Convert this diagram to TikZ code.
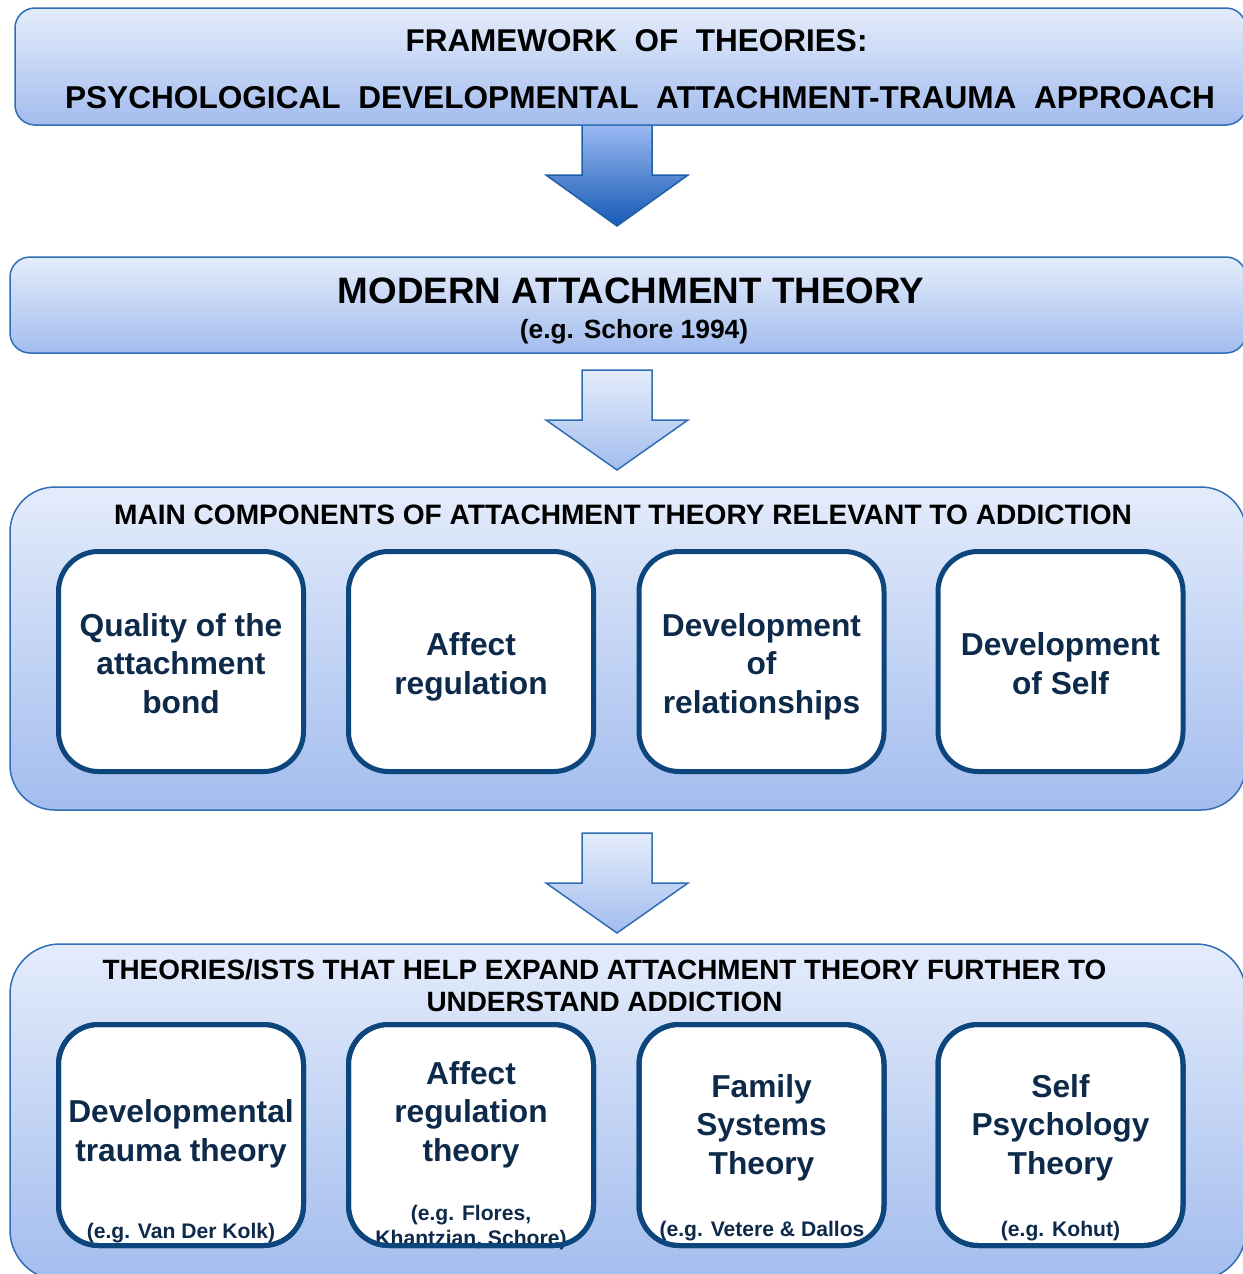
\documentclass[tikz,border=0pt]{standalone}
\usepackage{fontspec}
\setmainfont{Liberation Sans}
\definecolor{boxtop}{HTML}{E4ECFB}
\definecolor{boxbot}{HTML}{A3BDEE}
\definecolor{boxline}{HTML}{2F6DB5}
\definecolor{inline}{HTML}{0C467C}
\definecolor{intext}{HTML}{0E2A4A}
\definecolor{arrtop}{HTML}{A3BFF7}
\definecolor{arrbot}{HTML}{165AB4}
\definecolor{arrline}{HTML}{1F5FA8}
\newcommand\fsz[2]{\fontsize{#1}{#2}\selectfont\bfseries}
\begin{document}
\begin{tikzpicture}[x=1pt,y=-1pt,
  outerbox/.style={draw=boxline, line width=1.5pt, top color=boxtop, bottom color=boxbot, inner sep=0pt, outer sep=0pt},
  innerbox/.style={draw=inline, line width=5pt, fill=white, rounded corners=40pt, minimum width=245pt, inner sep=0pt, outer sep=0pt},
  innerborder/.style={draw=inline, line width=5pt, rounded corners=40pt},
  darkarrow/.style={draw=arrline, line width=1.5pt, top color=arrtop, bottom color=arrbot, line join=miter},
  lightarrow/.style={draw=boxline, line width=1.5pt, top color=boxtop, bottom color=boxbot, line join=miter},
  ttl/.style={text=black, anchor=base, inner sep=0pt, align=center},
  intxt/.style={text=intext, anchor=base, inner sep=0pt, align=center, font=\fsz{31.7}{38.5}},
  smalltxt/.style={text=intext, anchor=base, inner sep=0pt, align=center, font=\fsz{21.1}{25}}
]
\useasboundingbox (0,0) rectangle (1242,1274);

% arrow 1 (drawn before box 1 so the box border crosses the shaft)
\path[darkarrow] (582,118) -- (582,175) -- (546,175) -- (617,226) -- (688,175) -- (652,175) -- (652,118) -- cycle;

% outer boxes
\node[outerbox, rounded corners=20pt, minimum width=1231pt, minimum height=117pt] (b1) at (630.5,66.5) {};
\node[outerbox, rounded corners=20pt, minimum width=1236pt, minimum height=96pt] (b2) at (628,305) {};
\node[outerbox, rounded corners=45pt, minimum width=1236pt, minimum height=323pt] (b3) at (628,648.5) {};
\node[outerbox, rounded corners=50pt, minimum width=1236pt, minimum height=336pt] (b4) at (628,1112) {};

% arrows 2 and 3
\path[lightarrow] (582,370) -- (582,420) -- (546,420) -- (617,470) -- (688,420) -- (652,420) -- (652,370) -- cycle;
\path[lightarrow] (582,833) -- (582,883) -- (546,883) -- (617,933) -- (688,883) -- (652,883) -- (652,833) -- cycle;

% titles (base anchor = baseline of the last line)
\node[ttl, font=\fsz{31.5}{38}] (t1a) at (636.5,51) {FRAMEWORK\ \ OF\ \ THEORIES:};
\node[ttl, font=\fsz{31.6}{38}] (t1b) at (640,108) {PSYCHOLOGICAL\ \ DEVELOPMENTAL\ \ ATTACHMENT-TRAUMA\ \ APPROACH};
\node[ttl, font=\fsz{36.8}{42}] (t2a) at (631,303) {MODERN ATTACHMENT THEORY};
\node[ttl, font=\fsz{26.4}{30}] (t2b) at (634,338) {(e.g. Schore 1994)};
\node[ttl, font=\fsz{28.1}{32}] (t3) at (623,524) {MAIN COMPONENTS OF ATTACHMENT THEORY RELEVANT TO ADDICTION};
\node[ttl, font=\fsz{27.9}{32}] (t4) at (604.5,1011) {THEORIES/ISTS THAT HELP EXPAND ATTACHMENT THEORY FURTHER TO\\UNDERSTAND ADDICTION};

% inner boxes, row 1
\node[innerbox, minimum height=220pt] (c1) at (181,661.5) {};
\node[innerbox, minimum height=220pt] (c2) at (471,661.5) {};
\node[innerbox, minimum height=220pt] (c3) at (761.5,661.5) {};
\node[innerbox, minimum height=220pt] (c4) at (1060.5,661.5) {};
% inner boxes, row 2
\node[innerbox, minimum height=221pt] (d1) at (181,1135) {};
\node[innerbox, minimum height=221pt] (d2) at (471,1135) {};
\node[innerbox, minimum height=221pt] (d3) at (761.5,1135) {};
\node[innerbox, minimum height=221pt] (d4) at (1060.5,1135) {};

% texts row 1
\node[intxt] (q1) at (181,713) {Quality of the\\attachment\\bond};
\node[intxt] (q2) at (471,694) {Affect\\regulation};
\node[intxt] (q3) at (761.5,713) {Development\\of\\relationships};
\node[intxt] (q4) at (1060.5,694) {Development\\of Self};

% texts row 2
\node[intxt] (r1) at (181,1161) {Developmental\\trauma theory};
\node[intxt] (r2) at (471,1161) {Affect\\regulation\\theory};
\node[intxt] (r3) at (761.5,1174) {Family\\Systems\\Theory};
\node[intxt] (r4) at (1060.5,1174) {Self\\Psychology\\Theory};
\node[smalltxt] (s1) at (181,1238) {(e.g. Van Der Kolk)};
\node[smalltxt] (s2) at (471,1245) {(e.g. Flores,\\Khantzian, Schore)};
\node[smalltxt] (s3) at (762,1236) {(e.g. Vetere \& Dallos};
\node[smalltxt] (s4) at (1060.5,1236) {(e.g. Kohut)};

% borders redrawn over the texts
\foreach \n in {d1,d2,d3,d4}{
  \draw[innerborder] (\n.south west) rectangle (\n.north east);
}
\end{tikzpicture}
\end{document}
